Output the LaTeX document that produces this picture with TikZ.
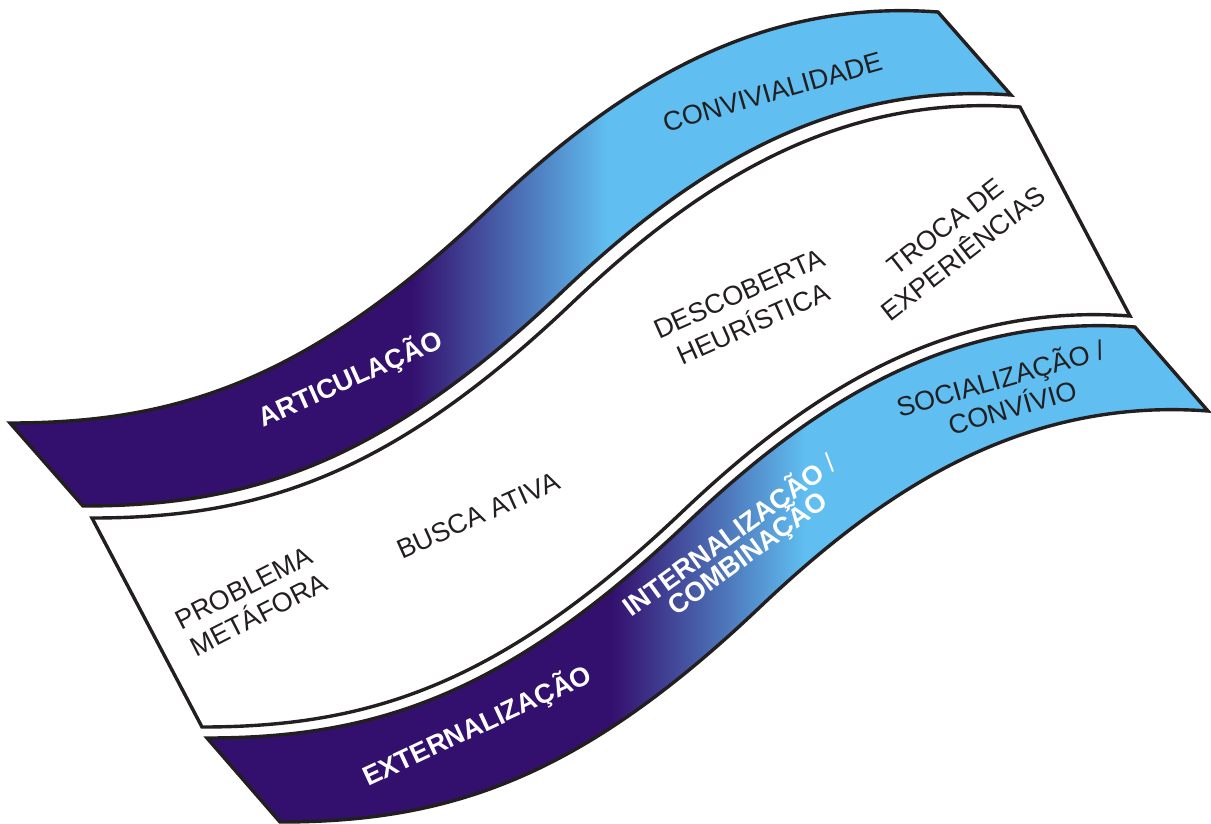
\documentclass[tikz,border=0pt]{standalone}
\usepackage{fontspec}
\setmainfont{Liberation Sans}
\definecolor{bandDark}{HTML}{34106E}
\definecolor{bandLight}{HTML}{60BEF0}
\definecolor{ink}{HTML}{231F20}
\tikzset{
  wavefwd/.style={insert path={.. controls +(170,0) and +(-180,171) .. ++(480,-215) .. controls +(120,-114) and +(-188,-14) .. ++(448,-196)}},
  wavebwd/.style={insert path={.. controls +(-188,-14) and +(120,-114) .. ++(-448,196) .. controls +(-180,171) and +(170,0) .. ++(-480,215)}},
  bandline/.style={draw=ink, line width=3.4pt, line join=miter},
  lbl/.style={font=\fontsize{27}{31}\selectfont, text=ink, anchor=base, inner sep=0pt},
  wlbl/.style={font=\fontsize{27}{31}\selectfont\bfseries, text=white, anchor=base, inner sep=0pt},
}
\begin{document}
\begin{tikzpicture}[x=1pt, y=-1pt]
\useasboundingbox (0,0) rectangle (1211,823);

% top band (gradient)
\begin{scope}
  \clip (10,423) [wavefwd] -- (1011,95) [wavebwd] -- cycle;
  \fill[bandDark] (0,0) rectangle (413,823);
  \shade[left color=bandDark, right color=bandLight] (412,0) rectangle (607,823);
  \fill[bandLight] (606,0) rectangle (1211,823);
\end{scope}
\path[bandline] (10,423) [wavefwd] -- (1011,95) [wavebwd] -- cycle;

% middle band (white)
\path[bandline, fill=white] (92,518) [wavefwd] -- (1130,316) [wavebwd] -- cycle;

% bottom band (gradient)
\begin{scope}
  \clip (207,738) [wavefwd] -- (1208,411) [wavebwd] -- cycle;
  \fill[bandDark] (0,0) rectangle (613,823);
  \shade[left color=bandDark, right color=bandLight] (612,0) rectangle (805,823);
  \fill[bandLight] (804,0) rectangle (1211,823);
\end{scope}
\path[bandline] (207,738) [wavefwd] -- (1208,411) [wavebwd] -- cycle;

% labels in the top band
\node[lbl, rotate=16] (conviv) at (775,101) {CONVIVIALIDADE};
\node[wlbl, rotate=24] (artic) at (354,387) {ARTICULAÇÃO};

% labels in the middle band
\node[lbl, rotate=27] (probl) at (248,596) {PROBLEMA};
\node[lbl, rotate=27] (metaf) at (263,623) {METÁFORA};
\node[lbl, rotate=24] (busca) at (482,524) {BUSCA ATIVA};
\node[lbl, rotate=24] (descob) at (743,302) {DESCOBERTA};
\node[lbl, rotate=24] (heur) at (757,332) {HEURÍSTICA};
\node[lbl, rotate=38] (troca) at (951,234) {TROCA DE};
\node[lbl, rotate=38] (exper) at (969,261) {EXPERIÊNCIAS};

% labels in the bottom band
\node[wlbl, rotate=25] (extern) at (481,734) {EXTERNALIZAÇÃO};
\node[wlbl, rotate=36] (intern) at (735,543) {INTERNALIZAÇÃO {\mdseries /}};
\node[wlbl, rotate=36] (combin) at (753,561) {COMBINAÇÃO};
\node[lbl, rotate=16] (social) at (1003,388) {SOCIALIZAÇÃO /};
\node[lbl, rotate=16] (convivio) at (1015,417) {CONVÍVIO};
\end{tikzpicture}
\end{document}
